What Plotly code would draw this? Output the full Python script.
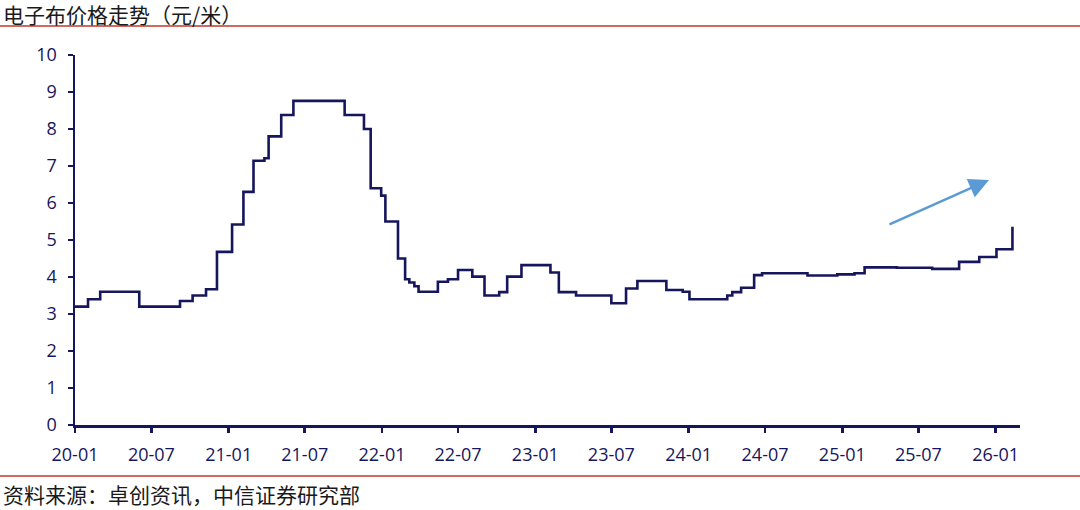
import plotly.graph_objects as go

# ---- data ----
dates = [
    "2020-01-01", "2020-02-01", "2020-03-01", "2020-06-02", "2020-09-07", "2020-10-07",
    "2020-11-08", "2020-12-04", "2021-01-09", "2021-02-05", "2021-03-01", "2021-03-27",
    "2021-04-06", "2021-05-06", "2021-06-04", "2021-10-04", "2021-11-19", "2021-12-05",
    "2021-12-30", "2022-01-09", "2022-02-08", "2022-02-25", "2022-03-07", "2022-03-19",
    "2022-03-29", "2022-05-14", "2022-06-07", "2022-07-01", "2022-08-04", "2022-09-02",
    "2022-10-07", "2022-10-26", "2022-11-29", "2023-02-06", "2023-02-26", "2023-04-08",
    "2023-07-01", "2023-08-05", "2023-09-01", "2023-11-09", "2023-12-18", "2024-01-03",
    "2024-04-02", "2024-04-14", "2024-05-05", "2024-06-05", "2024-06-24", "2024-10-10",
    "2024-12-20", "2025-01-30", "2025-02-23", "2025-05-11", "2025-08-03", "2025-10-06",
    "2025-11-23", "2026-01-03", "2026-02-10",
]
prices = [
    3.20, 3.40, 3.60, 3.20, 3.35, 3.50,
    3.67, 4.68, 5.42, 6.30, 7.14, 7.21,
    7.80, 8.38, 8.76, 8.38, 8.00, 6.40,
    6.20, 5.50, 4.50, 3.94, 3.85, 3.75,
    3.60, 3.87, 3.94, 4.19, 4.01, 3.50,
    3.59, 4.01, 4.32, 4.12, 3.59, 3.50,
    3.29, 3.69, 3.89, 3.65, 3.60, 3.40,
    3.50, 3.59, 3.71, 4.05, 4.10, 4.04,
    4.07, 4.10, 4.26, 4.25, 4.22, 4.41,
    4.54, 4.75, 5.36,
]
tick_vals = ["2020-01-01", "2020-07-01", "2021-01-01", "2021-07-01", "2022-01-01",
             "2022-07-01", "2023-01-01", "2023-07-01", "2024-01-01", "2024-07-01",
             "2025-01-01", "2025-07-01", "2026-01-01"]
tick_text = ["20-01", "20-07", "21-01", "21-07", "22-01", "22-07", "23-01",
             "23-07", "24-01", "24-07", "25-01", "25-07", "26-01"]

title_text = "电子布价格走势（元/米）"
source_text = "资料来源：卓创资讯，中信证券研究部"

# ---- layout geometry ----
W, H = 1080, 510
L, R, T, B = 75, 60, 55, 85
PW, PH = W - L - R, H - T - B

def px(x):
    return (x - L) / PW

def py(y):
    return (H - B - y) / PH

NAVY = "#16165c"
RED = "#c0392b"
CJK = "Noto Sans CJK SC"

fig = go.Figure()
fig.add_trace(go.Scatter(
    x=dates, y=prices, mode="lines", line_shape="hv",
    line=dict(color=NAVY, width=2.6), hoverinfo="skip", showlegend=False,
))

axis_common = dict(
    showgrid=False, zeroline=False,
    showline=True, linecolor=NAVY, linewidth=2.5,
    ticks="outside", ticklen=5, tickwidth=2.5, tickcolor=NAVY,
    ticklabelstandoff=7,
    tickfont=dict(family="Open Sans", size=18, color=NAVY),
)

fig.update_layout(
    width=W, height=H,
    margin=dict(l=L, r=R, t=T, b=B),
    plot_bgcolor="white", paper_bgcolor="white",
    font=dict(family="Open Sans", size=18, color=NAVY),
    xaxis=dict(
        type="date", range=["2020-01-01", "2026-02-28"],
        tickmode="array", tickvals=tick_vals, ticktext=tick_text,
        **axis_common,
    ),
    yaxis=dict(range=[0, 10], dtick=1, tick0=0, **axis_common),
    shapes=[
        dict(type="line", xref="paper", yref="paper",
             x0=px(0), x1=px(W), y0=py(26), y1=py(26),
             line=dict(color=RED, width=1.5)),
        dict(type="line", xref="paper", yref="paper",
             x0=px(0), x1=px(W), y0=py(476), y1=py(476),
             line=dict(color=RED, width=1.5)),
    ],
    annotations=[
        dict(text=title_text, xref="paper", yref="paper",
             x=px(1), y=py(14), xanchor="left", yanchor="middle",
             showarrow=False, font=dict(family=CJK, size=21, color="#1a1a1a")),
        dict(text=source_text, xref="paper", yref="paper",
             x=px(1), y=py(494), xanchor="left", yanchor="middle",
             showarrow=False, font=dict(family=CJK, size=21, color="#1a1a1a")),
        dict(text="", xref="paper", yref="paper",
             x=px(989), y=py(180), ax=888 - 989, ay=225 - 180,
             showarrow=True, arrowhead=2, arrowsize=1.6, arrowwidth=2.5,
             arrowcolor="#5b9bd5"),
    ],
)

fig.write_html(
    "out.html",
    config={"displayModeBar": False, "staticPlot": True},
    post_script="document.body.style.margin='0';document.body.style.overflow='hidden';",
)
